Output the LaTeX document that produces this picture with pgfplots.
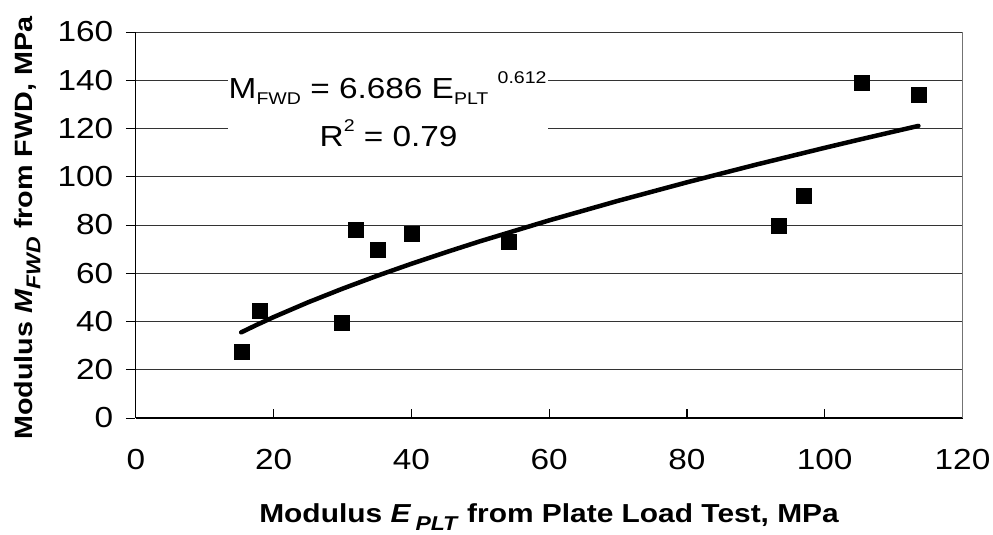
\documentclass[border=0pt]{standalone}
\usepackage{fontspec}
\setmainfont{Liberation Sans}[FakeStretch=1.15]
\usepackage{pgfplots}
\pgfplotsset{compat=1.18}
\newcommand{\sbs}[1]{\raisebox{-0.22em}{\fontsize{17}{17}\selectfont #1}}
\newcommand{\sps}[1]{\raisebox{0.52em}{\fontsize{17}{17}\selectfont #1}}
\begin{document}
\begin{tikzpicture}
\begin{axis}[
  scale only axis, width=826.7pt, height=386pt,
  xmin=0, xmax=120, ymin=0, ymax=160,
  xtick={0,20,...,120}, ytick={0,20,...,160},
  axis x line*=bottom, axis y line*=left,
  axis line style={black, line width=1.2pt},
  ymajorgrids, grid style={black!80, line width=0.9pt},
  tick align=inside, major tick length=9pt,
  xtick style={black, line width=1.2pt},
  ytick style={black, line width=0.9pt, xshift=-10pt},
  /pgf/number format/assume math mode=true,
  ticklabel style={font=\fontsize{29}{29}\selectfont},
  xticklabel style={yshift=-28pt},
  yticklabel style={xshift=-19pt},
  xlabel={\textbf{Modulus \textit{E}\,\raisebox{-0.3em}{\fontsize{20}{20}\selectfont\textit{PLT}} from Plate Load Test, MPa}},
  ylabel={\textbf{Modulus \textit{M}\raisebox{-0.3em}{\fontsize{20}{20}\selectfont\textit{FWD}} from FWD, MPa}},
  xlabel style={font=\fontsize{26}{26}\selectfont, at={(axis description cs:0.5,-0.272)}, anchor=base},
  ylabel style={font=\fontsize{25}{26}\selectfont, at={(axis description cs:-0.1246,0.492)}, anchor=base, rotate=0},
  clip=false,
]
\draw[black!55, line width=1.2pt] (axis cs:120,0) -- (axis cs:120,160);
\fill[white] (axis cs:13.4,103) rectangle (axis cs:59.9,154);
\node[anchor=base, inner sep=0pt, font=\fontsize{29}{29}\selectfont] at (axis cs:36.56,132.5)
  {M\sbs{FWD} = 6.686 E\sbs{PLT} \sps{0.612}};
\node[anchor=base, inner sep=0pt, font=\fontsize{29}{29}\selectfont] at (axis cs:36.7,112.5)
  {R\sps{2} = 0.79};
\addplot[black, line width=4.5pt, line cap=round, line join=round] coordinates {
  (15.3,35.5) (17.5,38.54) (20,41.82) (25,47.94) (30,53.60) (35,58.91)
  (40,63.92) (45,68.69) (50,73.28) (60,81.91) (70,90.02) (80,97.69)
  (90,104.99) (100,111.99) (105,115.38) (110,118.7) (113.6,121.07)
};
\addplot[only marks, mark=square*, mark size=7.5pt, black] coordinates {
  (15.3,27.5) (17.95,44.5) (29.86,39.5) (31.95,78.2) (35.14,69.6)
  (40.08,76.5) (54.2,72.9) (93.26,79.6) (96.98,92.2) (105.36,138.9) (113.6,134.0)
};
\end{axis}
\pgfresetboundingbox
\useasboundingbox (-135.8pt,-117pt) rectangle (857.2pt,418pt);
\end{tikzpicture}
\end{document}
